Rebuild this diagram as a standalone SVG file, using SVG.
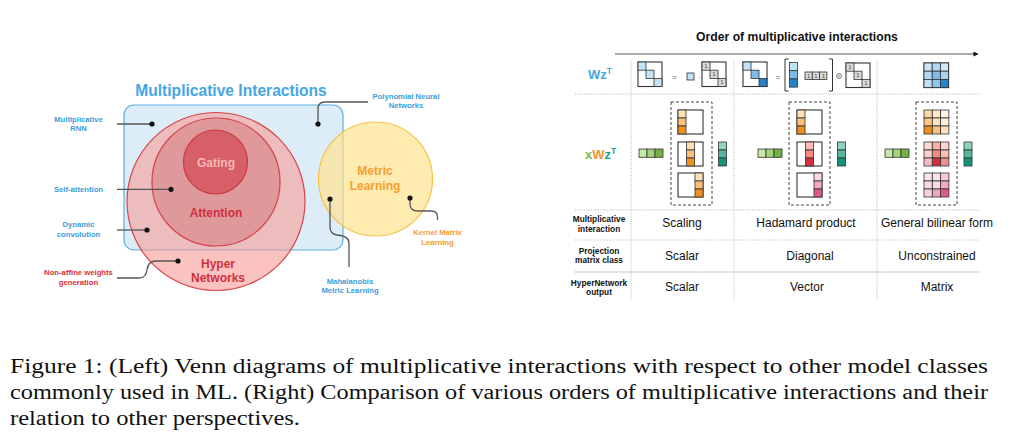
<svg xmlns="http://www.w3.org/2000/svg" width="1014" height="447" viewBox="0 0 1014 447">
<defs>
<marker id="arr" viewBox="0 0 10 10" refX="9" refY="5" markerWidth="7" markerHeight="5" orient="auto" markerUnits="userSpaceOnUse"><path d="M0,0 L10,5 L0,10 Z" fill="#111"/></marker>
</defs>
<style>
text{font-family:"Liberation Sans",Arial,sans-serif}
.lb{font-size:7.7px;font-weight:bold;fill:#3d9ddb;text-anchor:middle}
.lr{font-size:7.7px;font-weight:bold;fill:#d6303c;text-anchor:middle}
.lo{font-size:7.7px;font-weight:bold;fill:#f39c2c;text-anchor:middle}
.big{font-size:12px;font-weight:bold;text-anchor:middle}
.conn{fill:none;stroke:#555;stroke-width:1.3}
.dt{fill:#111}
.cell{stroke:#333;stroke-width:0.8}
.fr{fill:#fff;stroke:#333;stroke-width:1.1}
.dash{fill:none;stroke:#444;stroke-width:1;stroke-dasharray:3 2}
.sep{stroke:#b5b5b5;stroke-width:1;stroke-dasharray:1 1.3}
.th{font-size:8.3px;font-weight:bold;fill:#111;text-anchor:middle}
.tc{font-size:12px;fill:#111;text-anchor:middle}
.one{font-size:5px;fill:#333;text-anchor:middle}
.eq{font-size:8px;fill:#666;text-anchor:middle}
.cap{font-family:"Liberation Serif","Times New Roman",serif;font-size:20.5px;fill:#111}
.l1{fill:#fde0b5}.o2{fill:#fcc07a}.o3{fill:#f0901c}
.r1{fill:#fdbcb5}.r2{fill:#f7897e}.r3{fill:#d42d3c}
.p1{fill:#fbd5e1}.p2{fill:#f4aac5}.p3{fill:#df5d84}
.g1{fill:#c7e6a8}.g2{fill:#a3d47c}.g3{fill:#74b146}
.t1{fill:#8fd4c2}.t2{fill:#54b79c}.t3{fill:#17937a}
.b1{fill:#c2e2f6}.b2{fill:#7dbde8}.b3{fill:#2683c6}
.gr{fill:#d8d8d8}
</style>

<!-- ===== Venn diagram ===== -->
<g id="multiplicative-interactions">
<rect x="124" y="105" width="219" height="145" rx="10" fill="#dcedf8" stroke="#5aaee0" stroke-width="1.2"/>
<text x="231" y="96" font-size="15.6" font-weight="bold" fill="#44a6e2" text-anchor="middle">Multiplicative Interactions</text>
</g>
<g id="hyper-networks">
<circle cx="216" cy="201.5" r="89" fill="#f89b96" fill-opacity="0.6" stroke="#d9434a" stroke-width="1.2"/>
<text class="big" x="218" y="268" fill="#d03040">Hyper</text>
<text class="big" x="218" y="282" fill="#d03040">Networks</text>
</g>
<g id="attention">
<circle cx="216" cy="182" r="64" fill="#e0999b" stroke="#d2434d" stroke-width="1.2"/>
<text class="big" x="216" y="217" fill="#d02f3e">Attention</text>
</g>
<g id="gating">
<circle cx="215.5" cy="162" r="32" fill="#d65f68" stroke="#c93a45" stroke-width="1.2"/>
<text class="big" x="216" y="167" fill="#f6b8b8">Gating</text>
</g>
<g id="metric-learning">
<circle cx="375.5" cy="179" r="57" fill="#fde28f" fill-opacity="0.7" stroke="#f5c343" stroke-width="1.2"/>
<text class="big" x="375" y="175" fill="#f4a034">Metric</text>
<text class="big" x="375" y="190" fill="#f4a034">Learning</text>
</g>

<g id="venn-labels">
<text class="lb" x="78.5" y="121.5">Multiplicative</text>
<text class="lb" x="78.5" y="131">RNN</text>
<text class="lb" x="78.5" y="191.8">Self-attention</text>
<text class="lb" x="78.5" y="226.5">Dynamic</text>
<text class="lb" x="78.5" y="236.5">convolution</text>
<text class="lr" x="78.5" y="275">Non-affine weights</text>
<text class="lr" x="78.5" y="284.5">generation</text>
<text class="lb" x="406" y="98.5">Polynomial Neural</text>
<text class="lb" x="406" y="108">Networks</text>
<text class="lb" x="350" y="283.5">Mahalanobis</text>
<text class="lb" x="350" y="293">Metric Learning</text>
<text class="lo" x="437.5" y="235">Kernel Matrix</text>
<text class="lo" x="437.5" y="244.5">Learning</text>
</g>

<g id="venn-connectors">
<path class="conn" d="M117,124 H152"/>
<path class="conn" d="M117,189.3 H171"/>
<path class="conn" d="M117,230 H147"/>
<path class="conn" d="M117,278 H139 Q146,278 147,270 Q148,261 156,261 H178"/>
<path class="conn" d="M368,102 H325 Q318,102 318,109 V124"/>
<path class="conn" d="M330,199 V227 Q330,234 337,235 Q349,236 349,243 V267"/>
<path class="conn" d="M410,198 V204 Q410,211 418,211 H431 Q437.5,211 437.5,217 V220"/>
<circle class="dt" cx="152" cy="124" r="2.6"/>
<circle class="dt" cx="171" cy="189.3" r="2.6"/>
<circle class="dt" cx="147" cy="230" r="2.6"/>
<circle class="dt" cx="178" cy="261" r="2.6"/>
<circle class="dt" cx="318" cy="124" r="2.6"/>
<circle class="dt" cx="330" cy="199" r="2.6"/>
<circle class="dt" cx="410" cy="198" r="2.6"/>
</g>

<!-- ===== Table ===== -->
<g id="table-grid">
<text x="797" y="41" font-size="12.2" font-weight="bold" fill="#111" text-anchor="middle">Order of multiplicative interactions</text>
<line x1="615" y1="54" x2="978" y2="54" stroke="#555" stroke-width="1.2" marker-end="url(#arr)"/>
<line class="sep" x1="631" y1="60" x2="631" y2="300"/>
<line class="sep" x1="734" y1="60" x2="734" y2="300"/>
<line class="sep" x1="877" y1="60" x2="877" y2="300"/>
<line class="sep" x1="575" y1="94" x2="980" y2="94"/>
<line class="sep" x1="575" y1="210" x2="980" y2="210"/>
<line class="sep" x1="575" y1="240" x2="980" y2="240"/>
<line x1="575" y1="272" x2="980" y2="272" stroke="#aaa" stroke-width="1" stroke-dasharray="1.5 0.8"/>
</g>

<g id="row-labels">
<text x="588" y="79" font-size="13" font-weight="bold" fill="#44a6e2">Wz<tspan font-size="8.5" dy="-5">T</tspan></text>
<text x="585" y="159" font-size="13" font-weight="bold"><tspan fill="#7cbd4a">x</tspan><tspan fill="#f0962c">W</tspan><tspan fill="#27a085">z</tspan><tspan fill="#27a085" font-size="8.5" dy="-5">T</tspan></text>
<text class="th" x="599" y="222">Multiplicative</text>
<text class="th" x="599" y="231.5">interaction</text>
<text class="th" x="599" y="253.5">Projection</text>
<text class="th" x="599" y="263">matrix class</text>
<text class="th" x="599" y="285.5">HyperNetwork</text>
<text class="th" x="599" y="295">output</text>
</g>

<!-- Wz row -->
<g id="wz-scaling">
<rect class="fr" x="638" y="62" width="24" height="24.5"/>
<rect class="cell b1" x="638" y="62" width="8" height="8.2"/>
<rect class="cell b1" x="646" y="70.2" width="8" height="8.2"/>
<rect class="cell b1" x="654" y="78.4" width="8" height="8.1"/>
<text class="eq" x="674.5" y="79.5">=</text>
<rect class="cell b1" x="687" y="73" width="7" height="7"/>
<text class="eq" x="699" y="79.5">·</text>
<rect class="fr" x="702" y="62" width="24" height="24.5"/>
<rect class="cell gr" x="702" y="62" width="8" height="8.2"/>
<rect class="cell gr" x="710" y="70.2" width="8" height="8.2"/>
<rect class="cell gr" x="718" y="78.4" width="8" height="8.1"/>
<text class="one" x="706" y="67.8">1</text>
<text class="one" x="714" y="76">1</text>
<text class="one" x="722" y="84.2">1</text>
</g>
<g id="wz-hadamard">
<rect class="fr" x="743" y="62" width="24" height="24.5"/>
<rect class="cell b1" x="743" y="62" width="8" height="8.2"/>
<rect class="cell b2" x="751" y="70.2" width="8" height="8.2"/>
<rect class="cell b3" x="759" y="78.4" width="8" height="8.1"/>
<text class="eq" x="778" y="79.5">=</text>
<path d="M788.5,59 H785 V91 H788.5" fill="none" stroke="#333" stroke-width="1"/>
<rect class="cell b1" x="789.5" y="62.5" width="8" height="8.2"/>
<rect class="cell b2" x="789.5" y="70.7" width="8" height="8.2"/>
<rect class="cell b3" x="789.5" y="78.9" width="8" height="8.2"/>
<rect class="cell gr" x="805" y="72" width="7.3" height="7.5"/>
<rect class="cell gr" x="812.3" y="72" width="7.3" height="7.5"/>
<rect class="cell gr" x="819.6" y="72" width="7.3" height="7.5"/>
<text class="one" x="808.7" y="77.5">1</text>
<text class="one" x="816" y="77.5">1</text>
<text class="one" x="823.3" y="77.5">1</text>
<path d="M829,59 H832.5 V91 H829" fill="none" stroke="#333" stroke-width="1"/>
<circle cx="839" cy="76" r="2.4" fill="none" stroke="#555" stroke-width="0.8"/>
<circle cx="839" cy="76" r="0.7" fill="#555"/>
<rect class="fr" x="846" y="63" width="24" height="24.5"/>
<rect class="cell gr" x="846" y="63" width="8" height="8.2"/>
<rect class="cell gr" x="854" y="71.2" width="8" height="8.2"/>
<rect class="cell gr" x="862" y="79.4" width="8" height="8.1"/>
<text class="one" x="850" y="68.8">1</text>
<text class="one" x="858" y="77">1</text>
<text class="one" x="866" y="85.2">1</text>
</g>
<g id="wz-general">
<rect class="fr" x="924" y="63" width="24.6" height="24.6"/>
<rect class="cell" fill="#cde6f7" x="924" y="63" width="8.2" height="8.2"/>
<rect class="cell" fill="#b3d9f2" x="932.2" y="63" width="8.2" height="8.2"/>
<rect class="cell" fill="#d3e9f8" x="940.4" y="63" width="8.2" height="8.2"/>
<rect class="cell" fill="#b3d9f2" x="924" y="71.2" width="8.2" height="8.2"/>
<rect class="cell" fill="#7bbbe6" x="932.2" y="71.2" width="8.2" height="8.2"/>
<rect class="cell" fill="#a9d4f0" x="940.4" y="71.2" width="8.2" height="8.2"/>
<rect class="cell" fill="#c2e0f4" x="924" y="79.4" width="8.2" height="8.2"/>
<rect class="cell" fill="#8ec6ea" x="932.2" y="79.4" width="8.2" height="8.2"/>
<rect class="cell" fill="#2683c6" x="940.4" y="79.4" width="8.2" height="8.2"/>
</g>

<!-- xWz row -->
<g id="xwz-scaling">
<rect class="cell g1" x="639" y="149" width="8" height="8.3"/>
<rect class="cell g2" x="647" y="149" width="8" height="8.3"/>
<rect class="cell g3" x="655" y="149" width="8" height="8.3"/>
<rect class="dash" x="671" y="102" width="41" height="103"/>
<rect class="fr" x="678" y="110" width="25" height="24"/>
<rect class="cell l1" x="678" y="110" width="8" height="8"/>
<rect class="cell o2" x="678" y="118" width="8" height="8"/>
<rect class="cell o3" x="678" y="126" width="8" height="8"/>
<rect class="fr" x="678" y="142" width="25" height="24"/>
<rect class="cell l1" x="686.5" y="142" width="8" height="8"/>
<rect class="cell o2" x="686.5" y="150" width="8" height="8"/>
<rect class="cell o3" x="686.5" y="158" width="8" height="8"/>
<rect class="fr" x="678" y="173" width="25" height="24"/>
<rect class="cell l1" x="695" y="173" width="8" height="8"/>
<rect class="cell o2" x="695" y="181" width="8" height="8"/>
<rect class="cell o3" x="695" y="189" width="8" height="8"/>
<rect class="cell t1" x="718.5" y="142" width="8" height="8"/>
<rect class="cell t2" x="718.5" y="150" width="8" height="8"/>
<rect class="cell t3" x="718.5" y="158" width="8" height="8"/>
</g>
<g id="xwz-hadamard">
<rect class="cell g1" x="758" y="149" width="8" height="8.3"/>
<rect class="cell g2" x="766" y="149" width="8" height="8.3"/>
<rect class="cell g3" x="774" y="149" width="8" height="8.3"/>
<rect class="dash" x="789" y="102" width="41" height="103"/>
<rect class="fr" x="797" y="110" width="25" height="24"/>
<rect class="cell l1" x="797" y="110" width="8" height="8"/>
<rect class="cell o2" x="797" y="118" width="8" height="8"/>
<rect class="cell o3" x="797" y="126" width="8" height="8"/>
<rect class="fr" x="797" y="142" width="25" height="24"/>
<rect class="cell r1" x="805.5" y="142" width="8" height="8"/>
<rect class="cell r2" x="805.5" y="150" width="8" height="8"/>
<rect class="cell r3" x="805.5" y="158" width="8" height="8"/>
<rect class="fr" x="797" y="173" width="25" height="24"/>
<rect class="cell p1" x="814" y="173" width="8" height="8"/>
<rect class="cell p2" x="814" y="181" width="8" height="8"/>
<rect class="cell p3" x="814" y="189" width="8" height="8"/>
<rect class="cell t1" x="837.5" y="142" width="8" height="8"/>
<rect class="cell t2" x="837.5" y="150" width="8" height="8"/>
<rect class="cell t3" x="837.5" y="158" width="8" height="8"/>
</g>
<g id="xwz-general">
<rect class="cell g1" x="885" y="149" width="8" height="8.3"/>
<rect class="cell g2" x="893" y="149" width="8" height="8.3"/>
<rect class="cell g3" x="901" y="149" width="8" height="8.3"/>
<rect class="dash" x="916" y="102" width="41" height="103"/>
<rect class="cell" fill="#fdd7a4" x="924" y="110" width="8.3" height="8"/>
<rect class="cell" fill="#fde8c8" x="932.3" y="110" width="8.3" height="8"/>
<rect class="cell" fill="#fef2e0" x="940.6" y="110" width="8.3" height="8"/>
<rect class="cell" fill="#fcc88a" x="924" y="118" width="8.3" height="8"/>
<rect class="cell" fill="#fde3bf" x="932.3" y="118" width="8.3" height="8"/>
<rect class="cell" fill="#fef0dc" x="940.6" y="118" width="8.3" height="8"/>
<rect class="cell" fill="#f0901c" x="924" y="126" width="8.3" height="8"/>
<rect class="cell" fill="#f8c282" x="932.3" y="126" width="8.3" height="8"/>
<rect class="cell" fill="#fde0c0" x="940.6" y="126" width="8.3" height="8"/>
<rect class="cell" fill="#fbd8d5" x="924" y="142" width="8.3" height="8"/>
<rect class="cell" fill="#f9aea8" x="932.3" y="142" width="8.3" height="8"/>
<rect class="cell" fill="#fcd3cf" x="940.6" y="142" width="8.3" height="8"/>
<rect class="cell" fill="#fcd0cc" x="924" y="150" width="8.3" height="8"/>
<rect class="cell" fill="#f78a7f" x="932.3" y="150" width="8.3" height="8"/>
<rect class="cell" fill="#fbc0b8" x="940.6" y="150" width="8.3" height="8"/>
<rect class="cell" fill="#f2bcc0" x="924" y="158" width="8.3" height="8"/>
<rect class="cell" fill="#d42d3c" x="932.3" y="158" width="8.3" height="8"/>
<rect class="cell" fill="#e6908f" x="940.6" y="158" width="8.3" height="8"/>
<rect class="cell" fill="#fbe3ec" x="924" y="173" width="8.3" height="8"/>
<rect class="cell" fill="#fce4ec" x="932.3" y="173" width="8.3" height="8"/>
<rect class="cell" fill="#f9c8d8" x="940.6" y="173" width="8.3" height="8"/>
<rect class="cell" fill="#fbdbe6" x="924" y="181" width="8.3" height="8"/>
<rect class="cell" fill="#fbd9e4" x="932.3" y="181" width="8.3" height="8"/>
<rect class="cell" fill="#f4a8c4" x="940.6" y="181" width="8.3" height="8"/>
<rect class="cell" fill="#f9d0de" x="924" y="189" width="8.3" height="8"/>
<rect class="cell" fill="#f1a6c0" x="932.3" y="189" width="8.3" height="8"/>
<rect class="cell" fill="#df5d84" x="940.6" y="189" width="8.3" height="8"/>
<rect class="cell t1" x="964" y="142" width="8" height="8"/>
<rect class="cell t2" x="964" y="150" width="8" height="8"/>
<rect class="cell t3" x="964" y="158" width="8" height="8"/>
</g>

<g id="table-cells">
<text class="tc" x="682" y="227">Scaling</text>
<text class="tc" x="806" y="227">Hadamard product</text>
<text class="tc" x="937" y="227">General bilinear form</text>
<text class="tc" x="682" y="259.5">Scalar</text>
<text class="tc" x="810" y="259.5">Diagonal</text>
<text class="tc" x="937" y="259.5">Unconstrained</text>
<text class="tc" x="682" y="291">Scalar</text>
<text class="tc" x="807" y="291">Vector</text>
<text class="tc" x="937" y="291">Matrix</text>
</g>

<g id="caption">
<text class="cap" x="10" y="373" textLength="978" lengthAdjust="spacingAndGlyphs">Figure 1: (Left) Venn diagrams of multiplicative interactions with respect to other model classes</text>
<text class="cap" x="10" y="399" textLength="978" lengthAdjust="spacingAndGlyphs">commonly used in ML. (Right) Comparison of various orders of multiplicative interactions and their</text>
<text class="cap" x="10" y="425" textLength="290" lengthAdjust="spacingAndGlyphs">relation to other perspectives.</text>
</g>
</svg>
